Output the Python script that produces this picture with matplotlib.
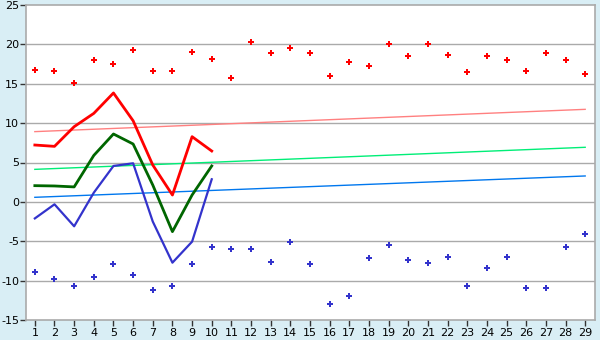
import numpy as np
import matplotlib
matplotlib.use("Agg")
import matplotlib.pyplot as plt

plt.rcParams["axes.unicode_minus"] = False

# days on the x axis
days = list(range(1, 30))

# scattered daily highs / lows
high_pts = [16.8, 16.6, 15.05, 17.97, 17.46, 19.24, 16.6, 16.6, 19.0, 18.2,
            15.7, 20.26, 18.86, 19.5, 18.86, 15.94, 17.72, 17.2, 20.0, 18.48,
            20.0, 18.6, 16.45, 18.48, 17.97, 16.6, 18.86, 17.97, 16.2]
low_pts = [-8.94, -9.83, -10.72, -9.58, -7.93, -9.32, -11.23, -10.72, -7.93, -5.77,
           -6.02, -6.02, -7.67, -5.13, -7.93, -13.0, -11.99, -7.17, -5.51, -7.42,
           -7.8, -7.04, -10.72, -8.44, -7.04, -10.97, -10.97, -5.77, -4.12]

# measured lines, first ten days
line_days = list(range(1, 11))
red_line = [7.22, 7.05, 9.55, 11.24, 13.83, 10.3, 4.68, 0.87, 8.28, 6.46]
green_line = [2.06, 2.02, 1.9, 5.9, 8.62, 7.35, 2.14, -3.78, 0.87, 4.56]
blue_line = [-2.1, -0.31, -3.1, 1.17, 4.56, 4.9, -2.5, -7.72, -5.05, 2.87]

# long-term trend lines (start and end of month)
trend_days = [1, 29]
trend_high = [8.92, 11.75]
trend_mid = [4.13, 6.93]
trend_low = [0.58, 3.29]

bg = "#d9eef5"
fig = plt.figure(figsize=(6, 3.4), dpi=100, facecolor=bg)
ax = fig.add_axes([26 / 600, 20 / 340, 569 / 600, 315 / 340])
ax.set_facecolor("white")

for y in range(-10, 25, 5):
    ax.axhline(y, color="#aaaaaa", lw=1, zorder=0)

ax.plot(trend_days, trend_high, color="#ff8080", lw=1, zorder=1)
ax.plot(trend_days, trend_mid, color="#00ee77", lw=1, zorder=1)
ax.plot(trend_days, trend_low, color="#0077ee", lw=1, zorder=1)

ax.plot(line_days, red_line, color="#ff0000", lw=2, zorder=3)
ax.plot(line_days, green_line, color="#006600", lw=2, zorder=3)
ax.plot(line_days, blue_line, color="#3333cc", lw=1.6, zorder=3)

ax.scatter(days, high_pts, marker="P", s=24, color="#ff0000", linewidths=0, zorder=4)
ax.scatter(days, low_pts, marker="P", s=24, color="#3333cc", linewidths=0, zorder=4)

ax.set_xlim(0.55, 29.5)
ax.set_ylim(-15, 25)
ax.set_xticks(days)
ax.set_yticks(range(-15, 30, 5))
ax.tick_params(axis="both", labelsize=8, color="#333333", length=4, width=1)
ax.tick_params(axis="x", pad=2)
ax.tick_params(axis="y", pad=1)
for s in ax.spines.values():
    s.set_color("#aaaaaa")
    s.set_linewidth(1.2)

fig.savefig("out.png", dpi=100, facecolor=bg)
